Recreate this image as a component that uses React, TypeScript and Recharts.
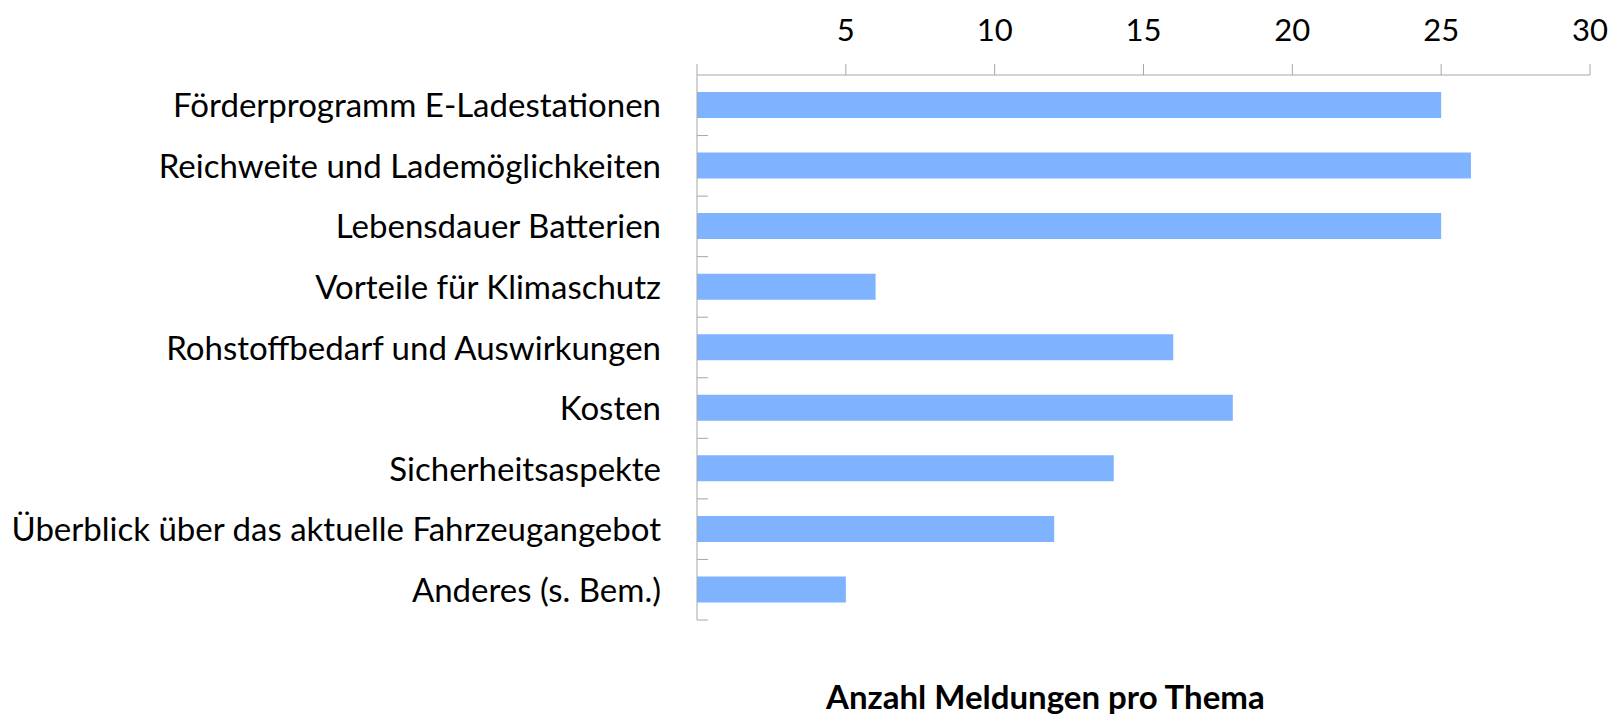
import { BarChart, Bar, XAxis, YAxis } from "recharts";

const topics = [
  "Förderprogramm E-Ladestationen",
  "Reichweite und Lademöglichkeiten",
  "Lebensdauer Batterien",
  "Vorteile für Klimaschutz",
  "Rohstoffbedarf und Auswirkungen",
  "Kosten",
  "Sicherheitsaspekte",
  "Überblick über das aktuelle Fahrzeugangebot",
  "Anderes (s. Bem.)",
];
const counts = [25, 26, 25, 6, 16, 18, 14, 12, 5];
const xTicks = [0, 5, 10, 15, 20, 25, 30];

const data = topics.map((topic, i) => ({ topic, count: counts[i] }));

const W = 1612;
const H = 717;
const TOP = 75;
const LEFT = 697;
const RIGHT = 22;
const BOTTOM = 97;
const BAND = (H - TOP - BOTTOM) / topics.length;
const FONT = "Lato, 'Open Sans', sans-serif";
const AXIS = "#a6a6a6";

function YTick(props: any) {
  const { x, y, payload } = props;
  const ax = x + 36;
  return (
    <g>
      <text x={x} y={y + 12} textAnchor="end" fontSize={33} fontFamily={FONT} fill="#000">
        {payload.value}
      </text>
      <line x1={ax} x2={ax + 11} y1={y + BAND / 2} y2={y + BAND / 2} stroke={AXIS} />
    </g>
  );
}

function XTick(props: any) {
  const { x, y, payload } = props;
  if (payload.value === 0) return null;
  return (
    <text x={x} y={y} textAnchor="middle" fontSize={31} fontFamily={FONT} fill="#000">
      {payload.value}
    </text>
  );
}

export default function App() {
  return (
    <div style={{ position: "absolute", left: 0, top: 0, width: W, height: H, background: "#fff" }}>
      <BarChart
        width={W}
        height={H}
        data={data}
        layout="vertical"
        margin={{ top: 0, right: RIGHT, left: 0, bottom: BOTTOM }}
      >
        <XAxis
          type="number"
          orientation="top"
          domain={[0, 30]}
          ticks={xTicks}
          height={TOP}
          tickSize={11}
          tickMargin={23}
          stroke={AXIS}
          tick={<XTick />}
          interval={0}
        />
        <YAxis
          type="category"
          dataKey="topic"
          width={LEFT}
          tickLine={false}
          tickSize={0}
          tickMargin={36}
          stroke={AXIS}
          tick={<YTick />}
          interval={0}
        />
        <Bar dataKey="count" fill="#7fb2ff" barSize={26} isAnimationActive={false} />
      </BarChart>
      <div
        style={{
          position: "absolute",
          left: 826,
          top: 678,
          fontFamily: FONT,
          fontWeight: 700,
          fontSize: 33,
          lineHeight: "36px",
          color: "#000",
          whiteSpace: "nowrap",
        }}
      >
        Anzahl Meldungen pro Thema
      </div>
    </div>
  );
}
